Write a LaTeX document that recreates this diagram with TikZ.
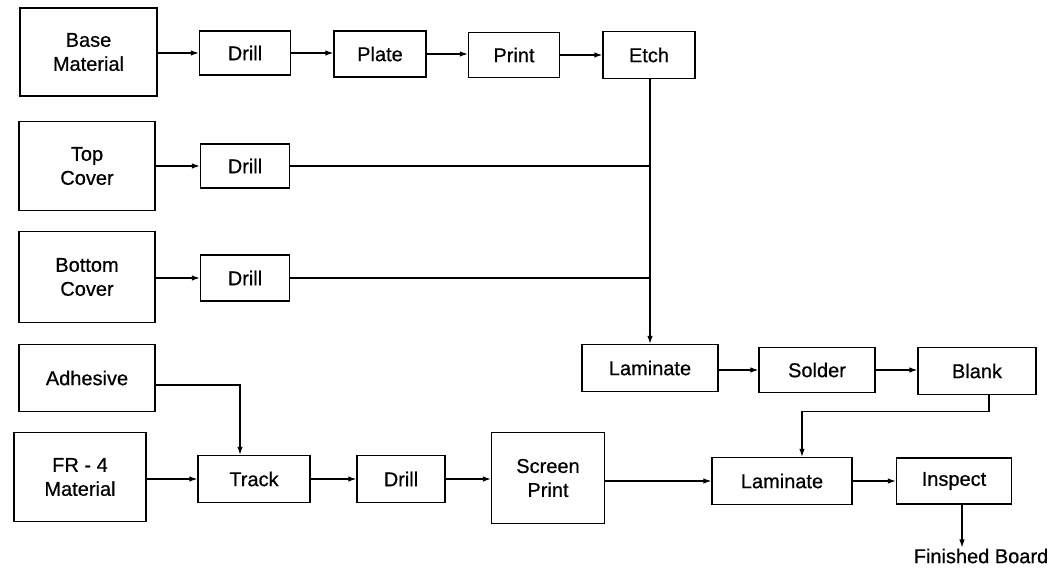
\documentclass[tikz,border=0pt]{standalone}
\usepackage{fontspec}
\setmainfont[FakeBold=0.6]{Liberation Sans}
\usetikzlibrary{arrows.meta}
\begin{document}
\begin{tikzpicture}[x=1pt,y=-1pt,
  box/.style={draw, line width=1.4pt, inner sep=0pt, align=center,
    font=\fontsize{20}{24}\selectfont},
  arr/.style={line width=1.1pt, -{Latex[length=8pt,width=5.5pt]}},
  ln/.style={line width=1.1pt}]
\useasboundingbox (0,0) rectangle (1054,569);
% left column
\node[box, minimum width=137pt, minimum height=88pt] (base) at (88.5,52) {Base\\Material};
\node[box, minimum width=136pt, minimum height=89pt] (top) at (87,166) {Top\\Cover};
\node[box, minimum width=136pt, minimum height=91pt] (bottom) at (87,277) {Bottom\\Cover};
\node[box, minimum width=136pt, minimum height=67pt] (adh) at (87,378) {Adhesive};
\node[box, minimum width=132pt, minimum height=89pt] (fr4) at (80,477) {FR - 4\\Material};
% top row
\node[box, minimum width=91pt, minimum height=44pt] (d1) at (245,53) {Drill};
\node[box, minimum width=92pt, minimum height=46pt] (plate) at (380,54) {Plate};
\node[box, minimum width=91pt, minimum height=45pt] (print) at (514,55) {Print};
\node[box, minimum width=92pt, minimum height=47pt] (etch) at (649,55) {Etch};
\node[box, minimum width=89pt, minimum height=44pt] (d2) at (245,166) {Drill};
\node[box, minimum width=89pt, minimum height=46pt] (d3) at (245,278) {Drill};
% middle right row
\node[box, minimum width=136pt, minimum height=47pt] (lam1) at (650,368) {Laminate};
\node[box, minimum width=116pt, minimum height=45pt] (solder) at (817,370) {Solder};
\node[box, minimum width=118pt, minimum height=47pt] (blank) at (977,371) {Blank};
% bottom row
\node[box, minimum width=112pt, minimum height=47pt] (track) at (254,479) {Track};
\node[box, minimum width=88pt, minimum height=47pt] (d4) at (401,479) {Drill};
\node[box, minimum width=113pt, minimum height=91pt] (screen) at (548,478) {Screen\\Print};
\node[box, minimum width=140pt, minimum height=47pt] (lam2) at (782,481) {Laminate};
\node[box, minimum width=115pt, minimum height=46pt] (insp) at (954,481) {Inspect};
\node[inner sep=1pt, font=\fontsize{20}{22}\selectfont] (fb) at (981,556) {Finished Board};
% connectors
\draw[arr] (base.east |- d1.west) -- (d1.west);
\draw[arr] (d1.east) -- (plate.west |- d1.east);
\draw[arr] (plate.east) -- (print.west |- plate.east);
\draw[arr] (print.east) -- (etch.west |- print.east);
\draw[arr] (top.east |- d2.west) -- (d2.west);
\draw[arr] (bottom.east |- d3.west) -- (d3.west);
\draw[arr] ([xshift=1pt]etch.south) -- ([xshift=1pt]etch.south |- lam1.north);
\draw[ln] (d2.east) -- ([xshift=1pt]etch.south |- d2.east);
\draw[ln] (d3.east) -- ([xshift=1pt]etch.south |- d3.east);
\draw[arr] (lam1.east |- solder.west) -- (solder.west);
\draw[arr] (solder.east) -- (blank.west |- solder.east);
\draw[arr] ([xshift=12pt]blank.south) -- ++(0,16) -| ([xshift=20pt]lam2.north);
\draw[arr] ([yshift=-7pt]adh.east) -| ([xshift=-14pt]track.north);
\draw[arr] (fr4.east |- track.west) -- (track.west);
\draw[arr] (track.east) -- (d4.west |- track.east);
\draw[arr] (d4.east) -- (screen.west |- d4.east);
\draw[arr] (screen.east |- lam2.west) -- (lam2.west);
\draw[arr] (lam2.east) -- (insp.west |- lam2.east);
\draw[arr] ([xshift=8pt]insp.south) -- ([xshift=8pt]insp.south |- fb.north);
\end{tikzpicture}
\end{document}
